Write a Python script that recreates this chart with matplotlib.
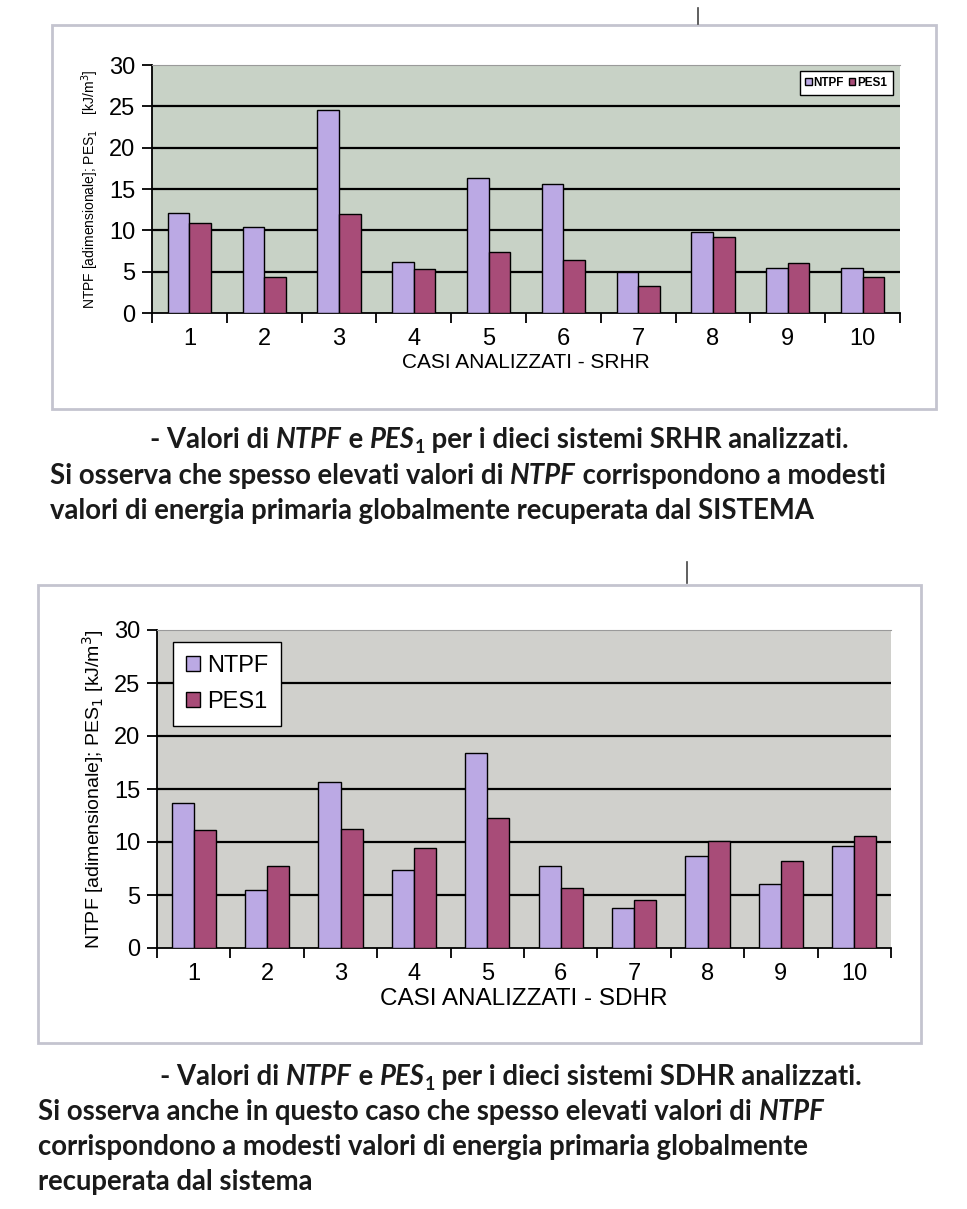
import matplotlib
matplotlib.use('Agg')
import matplotlib.pyplot as plt
from matplotlib.patches import Rectangle
from matplotlib.lines import Line2D
import numpy as np

# ---- data ----
cases = ['1', '2', '3', '4', '5', '6', '7', '8', '9', '10']
srhr_ntpf = [12.1, 10.35, 24.6, 6.2, 16.3, 15.6, 5.0, 9.8, 5.5, 5.4]
srhr_pes1 = [10.9, 4.3, 12.0, 5.3, 7.4, 6.4, 3.3, 9.2, 6.0, 4.35]
sdhr_ntpf = [13.7, 5.5, 15.7, 7.4, 18.4, 7.7, 3.75, 8.7, 6.0, 9.65]
sdhr_pes1 = [11.1, 7.7, 11.2, 9.4, 12.3, 5.7, 4.5, 10.1, 8.2, 10.6]
yticks = [0, 5, 10, 15, 20, 25, 30]

C_NTPF = '#bba9e4'
C_PES = '#a84c78'
FONT = 'Liberation Sans'
CAP_FONT = 'Lato'

W, H = 967, 1209
fig = plt.figure(figsize=(W / 100, H / 100), dpi=100)
fig.patch.set_facecolor('white')


def px_axes(l, t, r, b):
    return fig.add_axes([l / W, 1 - b / H, (r - l) / W, (b - t) / H])


def frame(l, t, r, b):
    fig.patches.append(Rectangle((l / W, 1 - b / H), (r - l) / W, (b - t) / H,
                                 transform=fig.transFigure, fill=False,
                                 edgecolor='#c4c4cf', lw=2))


def bar_chart(ax, ntpf, pes, bg, bw, tick_fs, xlabel, xlabel_fs):
    x = np.arange(len(cases))
    ax.set_facecolor(bg)
    ax.bar(x - bw / 2, ntpf, bw, color=C_NTPF, edgecolor='black', lw=1, zorder=3, label='NTPF')
    ax.bar(x + bw / 2, pes, bw, color=C_PES, edgecolor='black', lw=1, zorder=3, label='PES1')
    for v in yticks[1:-1]:
        ax.axhline(v, color='black', lw=1.6, zorder=1)
    ax.set_xlim(-0.5, len(cases) - 0.5)
    ax.set_ylim(0, 30)
    ax.set_yticks(yticks)
    ax.set_yticklabels([str(v) for v in yticks], fontsize=tick_fs, family=FONT)
    ax.set_xticks(x)
    ax.set_xticklabels(cases, fontsize=tick_fs, family=FONT)
    ax.set_xticks(np.arange(len(cases) + 1) - 0.5, minor=True)
    ax.tick_params(axis='x', which='major', length=0, pad=11)
    ax.tick_params(axis='x', which='minor', length=7, width=1.3, direction='out')
    ax.tick_params(axis='y', length=7, width=1.3, direction='out', pad=5)
    ax.spines['left'].set_linewidth(1.3)
    ax.spines['bottom'].set_linewidth(1.3)
    ax.spines['top'].set_color('#9a9a9a')
    ax.spines['top'].set_linewidth(0.8)
    ax.spines['right'].set_visible(False)
    ax.set_xlabel(xlabel, fontsize=xlabel_fs, family=FONT, labelpad=2)


# ---- top chart: SRHR ----
frame(52, 25, 936, 409)
ax1 = px_axes(152, 65, 900, 313)
bar_chart(ax1, srhr_ntpf, srhr_pes1, '#c8d2c6', 0.29, 17, 'CASI ANALIZZATI - SRHR', 15)
ax1.set_ylabel('NTPF [adimensionale]; PES$_1$    [kJ/m$^3$]', fontsize=10, family=FONT, labelpad=6)
ax1.legend(loc='upper right', bbox_to_anchor=(893 / W, 1 - 71 / H), bbox_transform=fig.transFigure,
           ncol=2, prop={'family': FONT, 'weight': 'bold', 'size': 8.5},
           frameon=True, fancybox=False, edgecolor='black', framealpha=1, borderaxespad=0,
           handlelength=0.55, handleheight=0.55, handletextpad=0.15, columnspacing=0.4,
           borderpad=0.5)

# ---- bottom chart: SDHR ----
frame(38, 585, 921, 1043)
ax2 = px_axes(157, 630, 891, 948)
bar_chart(ax2, sdhr_ntpf, sdhr_pes1, '#d0d0cc', 0.3, 17, 'CASI ANALIZZATI - SDHR', 17.5)
ax2.set_ylabel('NTPF [adimensionale]; PES$_1$ [kJ/m$^3$]', fontsize=14, family=FONT, labelpad=6)
ax2.legend(loc='upper left', bbox_to_anchor=(173 / W, 1 - 642 / H), bbox_transform=fig.transFigure,
           prop={'family': FONT, 'size': 17},
           frameon=True, fancybox=False, edgecolor='black', framealpha=1, borderaxespad=0,
           handlelength=0.6, handleheight=0.6, handletextpad=0.3, labelspacing=0.6,
           borderpad=0.55)

# small scan marks above each figure
fig.add_artist(Line2D([698 / W, 698 / W], [1 - 8 / H, 1 - 24 / H], color='#444444', lw=1.2))
fig.add_artist(Line2D([687 / W, 687 / W], [1 - 562 / H, 1 - 583 / H], color='#444444', lw=1.2))

# ---- captions (bold, with italic words) ----
renderer = fig.canvas.get_renderer()
CAP_FS = 19.8


def width_of(txt, style, size):
    t = fig.text(0, 0, txt, fontsize=size, fontweight='bold', fontstyle=style, family=CAP_FONT)
    w = t.get_window_extent(renderer).width
    t.remove()
    return w


def rich_line(x, y, parts):
    for txt, kind in parts:
        style = 'italic' if kind == 'i' else 'normal'
        size = CAP_FS * 0.65 if kind == 'sub' else CAP_FS
        dy = 5 if kind == 'sub' else 0
        core = txt.rstrip(' ')
        nsp = len(txt) - len(core)
        t = fig.text(x / W, 1 - (y + dy) / H, core, fontsize=size, fontweight='bold',
                     fontstyle=style, family=CAP_FONT, va='baseline', color='#1a1a1a')
        x += t.get_window_extent(renderer).width
        if nsp:
            x += nsp * (width_of('a a', 'normal', size) - width_of('aa', 'normal', size))


rich_line(150, 448, [('- Valori di ', 'n'), ('NTPF', 'i'), (' e ', 'n'), ('PES', 'i'), ('1', 'sub'),
                     (' per i dieci sistemi SRHR analizzati.', 'n')])
rich_line(50, 484, [('Si osserva che spesso elevati valori di ', 'n'), ('NTPF', 'i'),
                    (' corrispondono a modesti', 'n')])
rich_line(50, 519, [('valori di energia primaria globalmente recuperata dal SISTEMA', 'n')])

rich_line(160, 1085, [('- Valori di ', 'n'), ('NTPF', 'i'), (' e ', 'n'), ('PES', 'i'), ('1', 'sub'),
                      (' per i dieci sistemi SDHR analizzati.', 'n')])
rich_line(38, 1120, [('Si osserva anche in questo caso che spesso elevati valori di ', 'n'), ('NTPF', 'i')])
rich_line(38, 1155, [('corrispondono a modesti valori di energia primaria globalmente', 'n')])
rich_line(38, 1190, [('recuperata dal sistema', 'n')])

fig.savefig('out.png', dpi=100)
